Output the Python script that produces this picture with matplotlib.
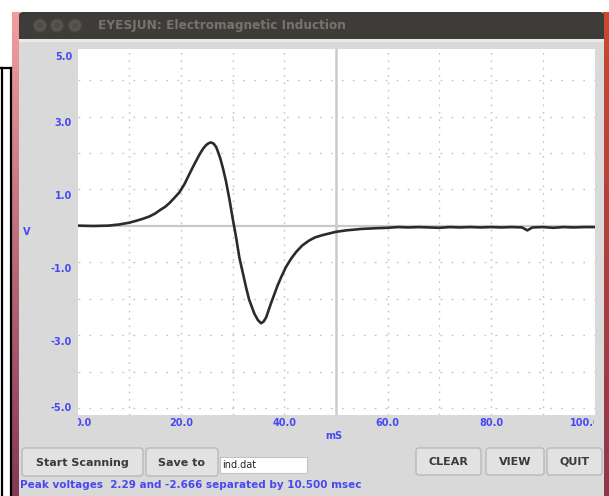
import numpy as np
import matplotlib
matplotlib.use("Agg")
import matplotlib.pyplot as plt
from matplotlib.patches import Rectangle, FancyBboxPatch, Circle
from matplotlib.transforms import Bbox

plt.rcParams['lines.scale_dashes'] = False
plt.rcParams['font.family'] = ['DejaVu Sans']

# ---------------- data ----------------
time_ms = [0, 3, 6, 8, 10, 11.3, 12.5, 13.9, 15, 15.9, 17, 17.8, 18.8, 19.7, 20.7,
           21.7, 22.7, 23.6, 24.3, 24.9, 25.4, 25.8, 26.3, 26.8, 27.1, 27.6, 28.1,
           28.7, 29.4, 30.0, 30.7, 31.3, 32.0, 32.6, 33.2, 34.2, 34.9, 35.5, 36.0,
           36.5, 37.4, 38.7, 39.5, 40.3, 41.3, 42.3, 43.5, 44.9, 46, 47.4, 50, 52,
           55, 58, 60, 62, 64, 66, 68, 70, 72, 74, 76, 78, 80, 82, 84, 86, 87, 88,
           90, 92, 94, 96, 98, 100]
voltage = [0.01, 0.0, 0.01, 0.04, 0.09, 0.14, 0.19, 0.26, 0.34, 0.43, 0.53, 0.63,
           0.78, 0.92, 1.15, 1.44, 1.72, 1.96, 2.12, 2.22, 2.27, 2.29, 2.26, 2.17,
           2.06, 1.86, 1.60, 1.24, 0.72, 0.22, -0.33, -0.86, -1.30, -1.68, -2.02,
           -2.40, -2.58, -2.666, -2.62, -2.50, -2.13, -1.63, -1.37, -1.13, -0.90,
           -0.71, -0.53, -0.39, -0.31, -0.25, -0.16, -0.12, -0.08, -0.06, -0.05,
           -0.03, -0.04, -0.03, -0.04, -0.05, -0.03, -0.04, -0.03, -0.04, -0.03,
           -0.04, -0.03, -0.04, -0.12, -0.04, -0.03, -0.05, -0.03, -0.04, -0.03,
           -0.03]

x_ticks = [0, 20, 40, 60, 80, 100]
x_tick_labels = ["0.0", "20.0", "40.0", "60.0", "80.0", "100.0"]
y_ticks = [5, 3, 1, -1, -3, -5]
y_tick_labels = ["5.0", "3.0", "1.0", "-1.0", "-3.0", "-5.0"]
x_grid = [10, 20, 30, 40, 60, 70, 80, 90]
y_grid = [-5, -4, -3, -2, -1, 1, 2, 3, 4]

window_title = "EYESJUN: Electromagnetic Induction"
buttons = ["Start Scanning", "Save to", "CLEAR", "VIEW", "QUIT"]
entry_text = "ind.dat"
status_text = "Peak voltages  2.29 and -2.666 separated by 10.500 msec"

# ---------------- figure ----------------
W, H = 609, 496
fig = plt.figure(figsize=(W / 100, H / 100), dpi=100)
fig.patch.set_facecolor("white")

bg = fig.add_axes([0, 0, 1, 1])
bg.axis("off")

BLUE = "#4848f2"

# left black box (another window)
bg.plot([0, 11], [68, 68], color="black", lw=1.6)
bg.plot([11, 11], [68, 496], color="black", lw=1.6)
bg.plot([2, 2], [68, 496], color="black", lw=1.6)

# pink/maroon left window border gradient
n = 200
c_top = np.array([0.95, 0.62, 0.62])
c_bot = np.array([0.52, 0.22, 0.33])
grad = np.linspace(0, 1, n)[:, None, None] * (c_bot - c_top) + c_top
bg.imshow(grad, extent=(12, 20, 496, 12), origin="upper", aspect="auto", zorder=1)
# right red strip
c_top2 = np.array([0.80, 0.28, 0.18])
c_bot2 = np.array([0.56, 0.22, 0.30])
grad2 = np.linspace(0, 1, n)[:, None, None] * (c_bot2 - c_top2) + c_top2
bg.imshow(grad2, extent=(603, 609, 496, 12), origin="upper", aspect="auto", zorder=1)

# window panel
bg.add_patch(Rectangle((19, 38), 585, 458, facecolor="#d9d9d9", edgecolor="none", zorder=2))
bg.add_patch(Rectangle((19, 39), 585, 3, facecolor="#e9e9e9", edgecolor="none", zorder=2))
# title bar
bg.add_patch(FancyBboxPatch((19, 12), 585, 27, boxstyle="round,pad=0,rounding_size=4",
                            facecolor="#3d3c38", edgecolor="none", zorder=3))
bg.add_patch(Rectangle((19, 30), 585, 9, facecolor="#3d3c38", edgecolor="none", zorder=3))
for cx in (40, 57, 75):
    bg.add_patch(Circle((cx, 25.5), 6.3, facecolor="#58574f", edgecolor="#4a4944", lw=1, zorder=4))
    bg.add_patch(Circle((cx, 25.5), 3.2, facecolor="#4e4d47", edgecolor="none", zorder=4))
bg.text(98, 25.5, window_title, color="#75746c", fontsize=8.7, fontweight="bold",
        ha="left", va="center", zorder=5)

# buttons
btn_boxes = [(22, 448, 121, 28), (146, 448, 72, 28), (416, 448, 65, 27),
             (486, 448, 58, 27), (547, 448, 55, 27)]
for label, (bx, by, bw, bh) in zip(buttons, btn_boxes):
    bg.add_patch(FancyBboxPatch((bx, by), bw, bh, boxstyle="round,pad=0,rounding_size=3",
                                facecolor="#e2e2e2", edgecolor="#b9b9b9", lw=1, zorder=4))
    bg.text(bx + bw / 2, by + bh / 2 + 0.5, label, color="#3a3a3a", fontsize=8,
            fontweight="bold", ha="center", va="center", zorder=5)
# entry
bg.add_patch(Rectangle((220, 457), 87, 16, facecolor="white", edgecolor="#c4c4c4", lw=0.8, zorder=4))
bg.text(222, 465.5, entry_text, color="#222222", fontsize=7, ha="left", va="center", zorder=5)
# status
bg.text(20, 484.5, status_text, color=BLUE, fontsize=7.5, fontweight="bold",
        ha="left", va="center", zorder=5)

bg.set_xlim(0, W)
bg.set_ylim(H, 0)

# ---------------- plot axes ----------------
left_px, right_px, top_px, bottom_px = 77.5, 594.5, 49, 415
ax = fig.add_axes([left_px / W, (H - bottom_px) / H, (right_px - left_px) / W,
                   (bottom_px - top_px) / H], zorder=10)
ax.set_facecolor("white")
for s in ax.spines.values():
    s.set_visible(False)
ax.set_xticks([])
ax.set_yticks([])
ax.set_xlim(0, 100)
ax.set_ylim(-5.18, 4.85)

for g in y_grid:
    ax.axhline(g, color="#c6c6c6", lw=1.0, linestyle=(0, (1.3, 6.6)), zorder=1)
for g in x_grid:
    ax.axvline(g, color="#c6c6c6", lw=1.0, linestyle=(0, (1.3, 4.0)), zorder=1)
ax.axhline(0, color="#c9c9c9", lw=1.6, zorder=2)
ax.axvline(50, color="#cbcbcb", lw=1.8, zorder=2)

ax.plot(time_ms, voltage, color="#2b2b2b", lw=1.9, solid_joinstyle="round", zorder=3)

# tick labels (centred on ticks; end labels pushed inward and clipped to plot width)
clip = Bbox([[left_px, 0], [right_px - 0.5, H]])
for xv, lab in zip(x_ticks, x_tick_labels):
    shift = 6 if xv == x_ticks[0] else (-9 if xv == x_ticks[-1] else 0)
    xpx = ax.transData.transform((xv, 0))[0] + shift
    t = fig.text(xpx / W, (H - 423) / H, lab, color=BLUE, fontsize=7,
                 fontweight="bold", ha="center", va="center", clip_on=True, zorder=20)
    t.set_clip_box(clip)

for yv, lab in zip(y_ticks, y_tick_labels):
    ypx = ax.transData.transform((0, yv))[1] - 6.5
    ypx = min(max(ypx, H - 408), H - 57)
    fig.text(72 / W, ypx / H, lab, color=BLUE, fontsize=7, fontweight="bold",
             ha="right", va="center", zorder=20)

fig.text(334 / W, (H - 436) / H, "mS", color=BLUE, fontsize=7, fontweight="bold",
         ha="center", va="center", zorder=20)
fig.text(27 / W, (H - 232) / H, "V", color=BLUE, fontsize=7, fontweight="bold",
         ha="center", va="center", zorder=20)

fig.savefig("out.png", dpi=100)
